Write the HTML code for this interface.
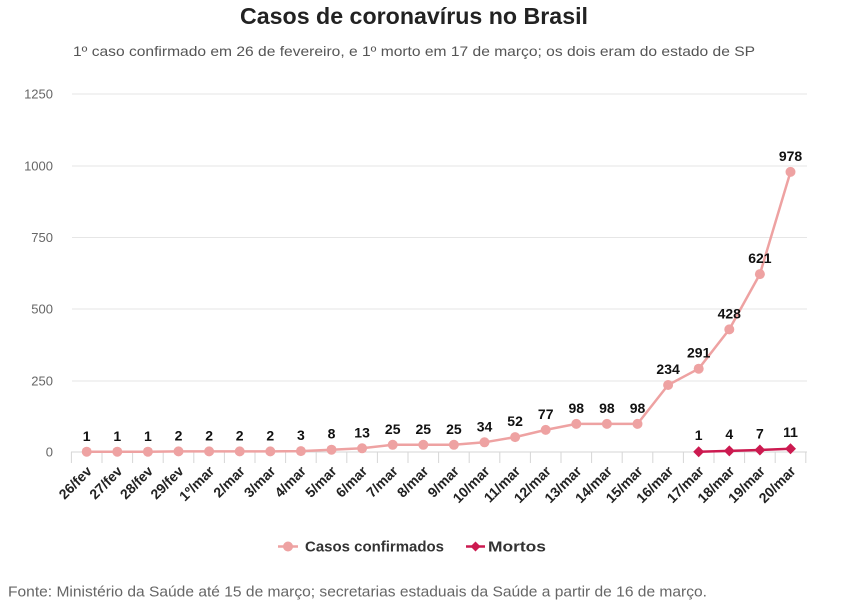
<!DOCTYPE html>
<html><head><meta charset="utf-8"><style>
html,body{margin:0;padding:0;background:#fff;}
svg{display:block;}
text{font-family:"Liberation Sans",sans-serif;}
</style></head><body>
<svg width="860" height="612" viewBox="0 0 860 612" xmlns="http://www.w3.org/2000/svg">
<rect width="860" height="612" fill="#fff"/>
<text x="240" y="24" font-size="23" font-weight="bold" fill="#222" textLength="348" lengthAdjust="spacingAndGlyphs">Casos de coronavírus no Brasil</text>
<text x="73" y="56" font-size="14" fill="#555" textLength="682" lengthAdjust="spacingAndGlyphs">1º caso confirmado em 26 de fevereiro, e 1º morto em 17 de março; os dois eram do estado de SP</text>

<g stroke="#e6e6e6" stroke-width="1">
<line x1="72" y1="94" x2="807" y2="94"/>
<line x1="72" y1="166" x2="807" y2="166"/>
<line x1="72" y1="237.5" x2="807" y2="237.5"/>
<line x1="72" y1="309" x2="807" y2="309"/>
<line x1="72" y1="381" x2="807" y2="381"/>
</g>
<g font-size="13" fill="#666" text-anchor="end">
<text x="53" y="98.5">1250</text>
<text x="53" y="170.5">1000</text>
<text x="53" y="242">750</text>
<text x="53" y="313.5">500</text>
<text x="53" y="385.5">250</text>
<text x="53" y="456.5">0</text>
</g>
<line x1="71" y1="452" x2="807" y2="452" stroke="#d6d6d6" stroke-width="1"/>
<g stroke="#d6d6d6" stroke-width="1">
<line x1="71.4" y1="452" x2="71.4" y2="463"/><line x1="102" y1="452" x2="102" y2="463"/><line x1="132.6" y1="452" x2="132.6" y2="463"/><line x1="163.2" y1="452" x2="163.2" y2="463"/><line x1="193.8" y1="452" x2="193.8" y2="463"/><line x1="224.4" y1="452" x2="224.4" y2="463"/><line x1="255" y1="452" x2="255" y2="463"/><line x1="285.6" y1="452" x2="285.6" y2="463"/><line x1="316.2" y1="452" x2="316.2" y2="463"/><line x1="346.8" y1="452" x2="346.8" y2="463"/><line x1="377.4" y1="452" x2="377.4" y2="463"/><line x1="408" y1="452" x2="408" y2="463"/><line x1="438.6" y1="452" x2="438.6" y2="463"/><line x1="469.2" y1="452" x2="469.2" y2="463"/><line x1="499.8" y1="452" x2="499.8" y2="463"/><line x1="530.4" y1="452" x2="530.4" y2="463"/><line x1="561" y1="452" x2="561" y2="463"/><line x1="591.6" y1="452" x2="591.6" y2="463"/><line x1="622.2" y1="452" x2="622.2" y2="463"/><line x1="652.8" y1="452" x2="652.8" y2="463"/><line x1="683.4" y1="452" x2="683.4" y2="463"/><line x1="714" y1="452" x2="714" y2="463"/><line x1="744.6" y1="452" x2="744.6" y2="463"/><line x1="775.2" y1="452" x2="775.2" y2="463"/><line x1="805.8" y1="452" x2="805.8" y2="463"/>
</g>

<g font-size="14" font-weight="bold" fill="#222" text-anchor="end">
<text transform="translate(92.7,472) rotate(-45)">26/fev</text>
<text transform="translate(123.3,472) rotate(-45)">27/fev</text>
<text transform="translate(153.9,472) rotate(-45)">28/fev</text>
<text transform="translate(184.5,472) rotate(-45)">29/fev</text>
<text transform="translate(215.1,472) rotate(-45)">1º/mar</text>
<text transform="translate(245.7,472) rotate(-45)">2/mar</text>
<text transform="translate(276.3,472) rotate(-45)">3/mar</text>
<text transform="translate(306.9,472) rotate(-45)">4/mar</text>
<text transform="translate(337.5,472) rotate(-45)">5/mar</text>
<text transform="translate(368.1,472) rotate(-45)">6/mar</text>
<text transform="translate(398.7,472) rotate(-45)">7/mar</text>
<text transform="translate(429.3,472) rotate(-45)">8/mar</text>
<text transform="translate(459.9,472) rotate(-45)">9/mar</text>
<text transform="translate(490.5,472) rotate(-45)">10/mar</text>
<text transform="translate(521.1,472) rotate(-45)">11/mar</text>
<text transform="translate(551.7,472) rotate(-45)">12/mar</text>
<text transform="translate(582.3,472) rotate(-45)">13/mar</text>
<text transform="translate(612.9,472) rotate(-45)">14/mar</text>
<text transform="translate(643.5,472) rotate(-45)">15/mar</text>
<text transform="translate(674.1,472) rotate(-45)">16/mar</text>
<text transform="translate(704.7,472) rotate(-45)">17/mar</text>
<text transform="translate(735.3,472) rotate(-45)">18/mar</text>
<text transform="translate(765.9,472) rotate(-45)">19/mar</text>
<text transform="translate(796.5,472) rotate(-45)">20/mar</text>
</g>

<polyline fill="none" stroke="#eea2a2" stroke-width="2.5" stroke-linejoin="round" points="86.7,451.7 117.3,451.7 147.9,451.7 178.5,451.4 209.1,451.4 239.7,451.4 270.3,451.4 300.9,451.1 331.5,449.7 362.1,448.3 392.7,444.8 423.3,444.8 453.9,444.8 484.5,442.3 515.1,437.1 545.7,429.9 576.3,423.9 606.9,423.9 637.5,423.9 668.1,385 698.7,368.7 729.3,329.4 759.9,274.1 790.5,171.9"/>
<g fill="#eea2a2">
<circle cx="86.7" cy="451.7" r="5"/><circle cx="117.3" cy="451.7" r="5"/><circle cx="147.9" cy="451.7" r="5"/><circle cx="178.5" cy="451.4" r="5"/><circle cx="209.1" cy="451.4" r="5"/><circle cx="239.7" cy="451.4" r="5"/><circle cx="270.3" cy="451.4" r="5"/><circle cx="300.9" cy="451.1" r="5"/><circle cx="331.5" cy="449.7" r="5"/><circle cx="362.1" cy="448.3" r="5"/><circle cx="392.7" cy="444.8" r="5"/><circle cx="423.3" cy="444.8" r="5"/><circle cx="453.9" cy="444.8" r="5"/><circle cx="484.5" cy="442.3" r="5"/><circle cx="515.1" cy="437.1" r="5"/><circle cx="545.7" cy="429.9" r="5"/><circle cx="576.3" cy="423.9" r="5"/><circle cx="606.9" cy="423.9" r="5"/><circle cx="637.5" cy="423.9" r="5"/><circle cx="668.1" cy="385" r="5"/><circle cx="698.7" cy="368.7" r="5"/><circle cx="729.3" cy="329.4" r="5"/><circle cx="759.9" cy="274.1" r="5"/><circle cx="790.5" cy="171.9" r="5"/>
</g>

<polyline fill="none" stroke="#cc1a50" stroke-width="2.5" points="698.7,451.7 729.3,450.9 759.9,450 790.5,448.8"/>
<g fill="#cc1a50">
<polygon points="698.7,446.2 704.2,451.7 698.7,457.2 693.2,451.7"/>
<polygon points="729.3,445.4 734.8,450.9 729.3,456.4 723.8,450.9"/>
<polygon points="759.9,444.5 765.4,450 759.9,455.5 754.4,450"/>
<polygon points="790.5,443.3 796,448.8 790.5,454.3 785,448.8"/>
</g>

<g font-size="14" font-weight="bold" fill="#111" text-anchor="middle">
<text x="86.7" y="441">1</text><text x="117.3" y="441">1</text><text x="147.9" y="441">1</text><text x="178.5" y="440.5">2</text><text x="209.1" y="440.5">2</text><text x="239.7" y="440.5">2</text><text x="270.3" y="440.5">2</text><text x="300.9" y="440">3</text><text x="331.5" y="438.7">8</text><text x="362.1" y="437.3">13</text><text x="392.7" y="433.8">25</text><text x="423.3" y="433.8">25</text><text x="453.9" y="433.8">25</text><text x="484.5" y="431.3">34</text><text x="515.1" y="426.1">52</text><text x="545.7" y="418.9">77</text><text x="576.3" y="412.9">98</text><text x="606.9" y="412.9">98</text><text x="637.5" y="412.9">98</text><text x="668.1" y="374">234</text><text x="698.7" y="357.7">291</text><text x="729.3" y="318.4">428</text><text x="759.9" y="263.1">621</text><text x="790.5" y="160.9">978</text>
<text x="698.7" y="440">1</text><text x="729.3" y="439.2">4</text><text x="759.9" y="438.3">7</text><text x="790.5" y="437.1">11</text>
</g>

<line x1="278" y1="546.5" x2="298" y2="546.5" stroke="#eea2a2" stroke-width="2.5"/>
<circle cx="288" cy="546.5" r="5" fill="#eea2a2"/>
<text x="305" y="551.5" font-size="14.5" font-weight="bold" fill="#333" textLength="139" lengthAdjust="spacingAndGlyphs">Casos confirmados</text>
<line x1="466" y1="546.5" x2="485" y2="546.5" stroke="#cc1a50" stroke-width="2.5"/>
<polygon points="475.5,541.5 480.5,546.5 475.5,551.5 470.5,546.5" fill="#cc1a50"/>
<text x="488" y="551.5" font-size="14.5" font-weight="bold" fill="#333" textLength="58" lengthAdjust="spacingAndGlyphs">Mortos</text>

<text x="8" y="596.5" font-size="14.5" fill="#666" textLength="699" lengthAdjust="spacingAndGlyphs">Fonte: Ministério da Saúde até 15 de março; secretarias estaduais da Saúde a partir de 16 de março.</text>
</svg>
</body></html>
